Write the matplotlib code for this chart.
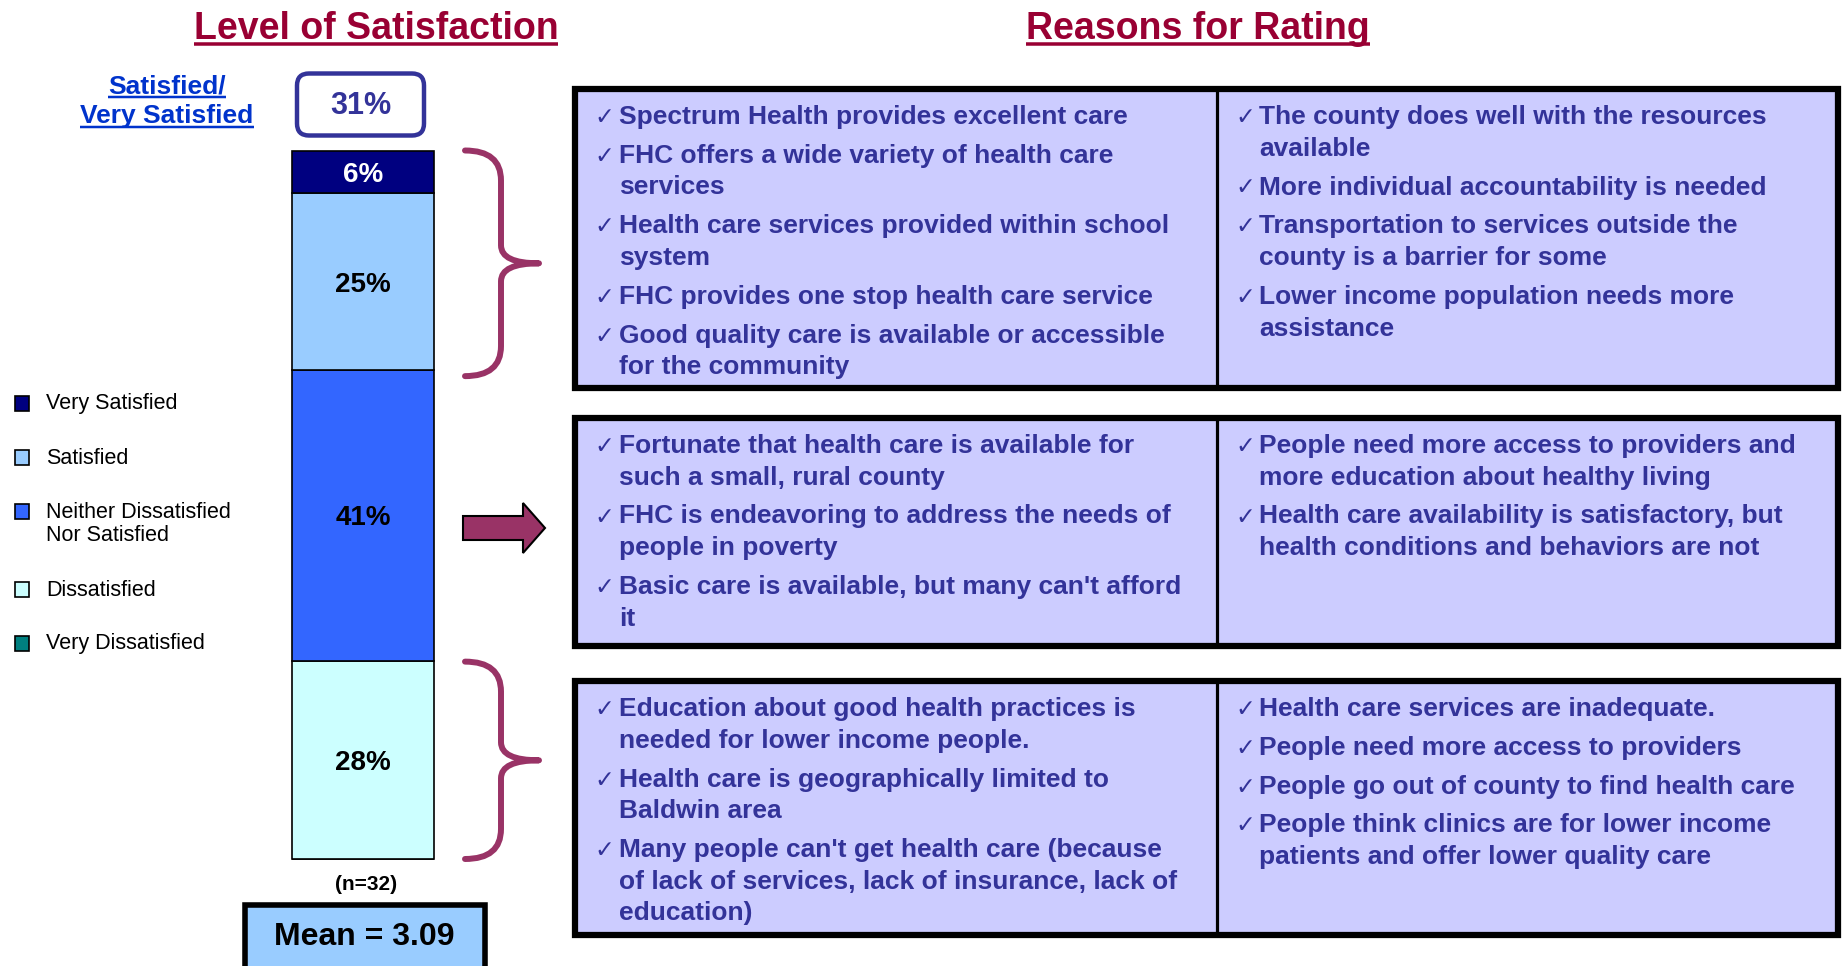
import matplotlib
matplotlib.use("Agg")
import matplotlib.pyplot as plt
from matplotlib.patches import Rectangle, FancyBboxPatch, PathPatch, FancyArrow
from matplotlib.path import Path

# ---------------- data ----------------
categories = ["Very Dissatisfied", "Dissatisfied", "Neither Dissatisfied\nNor Satisfied",
              "Satisfied", "Very Satisfied"]
percentages = [0, 28, 41, 25, 6]
bar_colors = ["#008080", "#CCFFFF", "#3366FF", "#99CCFF", "#000080"]
label_colors = ["black", "black", "black", "black", "white"]
n_respondents = 32
mean_score = 3.09
top2_share = percentages[3] + percentages[4]

reasons_satisfied_left = [
    "Spectrum Health provides excellent care",
    "FHC offers a wide variety of health care\nservices",
    "Health care services provided within school\nsystem",
    "FHC provides one stop health care service",
    "Good quality care is available or accessible\nfor the community",
]
reasons_satisfied_right = [
    "The county does well with the resources\navailable",
    "More individual accountability is needed",
    "Transportation to services outside the\ncounty is a barrier for some",
    "Lower income population needs more\nassistance",
]
reasons_neutral_left = [
    "Fortunate that health care is available for\nsuch a small, rural county",
    "FHC is endeavoring to address the needs of\npeople in poverty",
    "Basic care is available, but many can't afford\nit",
]
reasons_neutral_right = [
    "People need more access to providers and\nmore education about healthy living",
    "Health care availability is satisfactory, but\nhealth conditions and behaviors are not",
]
reasons_dissatisfied_left = [
    "Education about good health practices is\nneeded for lower income people.",
    "Health care is geographically limited to\nBaldwin area",
    "Many people can't get health care (because\nof lack of services, lack of insurance, lack of\neducation)",
]
reasons_dissatisfied_right = [
    "Health care services are inadequate.",
    "People need more access to providers",
    "People go out of county to find health care",
    "People think clinics are for lower income\npatients and offer lower quality care",
]

# ---------------- style ----------------
W, H = 1843, 966
SANS = ["Liberation Sans", "DejaVu Sans"]
TITLE_C = "#990033"
TXT_C = "#333399"
BRACE_C = "#993366"
BOX_FILL = "#CCCCFF"

fig = plt.figure(figsize=(W / 100, H / 100), dpi=100)
fig.patch.set_facecolor("white")
ax = fig.add_axes([0, 0, 1, 1])
ax.set_xlim(0, W)
ax.set_ylim(H, 0)
ax.axis("off")

# ---------------- stacked bar ----------------
BAR_L, BAR_R, BAR_T, BAR_B = 292, 434, 150.5, 859
axb = fig.add_axes([BAR_L / W, 1 - BAR_B / H, (BAR_R - BAR_L) / W, (BAR_B - BAR_T) / H])
bottom = 0
for v, c, lc in zip(percentages, bar_colors, label_colors):
    bars = axb.bar(0, v, bottom=bottom, width=1, color=c, edgecolor="black", linewidth=1.2)
    for p in bars.patches:
        p.set_clip_on(False)
    if v > 0:
        axb.text(0, bottom + v / 2, f"{v}%", ha="center", va="center_baseline", color=lc,
                 fontsize=20, fontweight="bold", family=SANS)
    bottom += v
axb.set_xlim(-0.5, 0.5)
axb.set_ylim(0, 100)
axb.axis("off")


def to_pix(yval):
    disp = axb.transData.transform((0, yval))
    return ax.transData.inverted().transform(disp)[1]


# ---------------- titles ----------------
renderer = fig.canvas.get_renderer()


def underlined(x, y_base, s, size, color, lw_px, gap):
    t = ax.text(x, y_base, s, ha="center", va="baseline", fontsize=size,
                fontweight="bold", color=color, family=SANS)
    bb = t.get_window_extent(renderer=renderer)
    (x0, _), (x1, _) = ax.transData.inverted().transform([(bb.x0, 0), (bb.x1, 0)])
    ax.plot([x0, x1], [y_base + gap, y_base + gap], color=color, lw=lw_px * 0.72,
            solid_capstyle="butt")


underlined(376, 39, "Level of Satisfaction", 27, TITLE_C, 3.5, 4.5)
underlined(1198, 39, "Reasons for Rating", 27, TITLE_C, 3.5, 4.5)
underlined(167, 94, "Satisfied/", 19, "#0033CC", 2.5, 3)
underlined(167, 123.5, "Very Satisfied", 19, "#0033CC", 2.5, 3)

# top-2 box
ax.add_patch(FancyBboxPatch((297, 73.5), 127, 62, boxstyle="round,pad=0,rounding_size=12",
                            facecolor="white", edgecolor=TXT_C, linewidth=3.2))
ax.text(360.5, 106, f"{top2_share}%", ha="center", va="center", fontsize=22,
        fontweight="bold", color=TXT_C, family=SANS)

# n and mean
ax.text(366, 884, f"(n={n_respondents})", ha="center", va="center", fontsize=15,
        fontweight="bold", color="black", family=SANS)
ax.add_patch(Rectangle((245, 905), 240, 80, facecolor="#99CCFF", edgecolor="black",
                       linewidth=4))
ax.text(364, 937, f"Mean = {mean_score:.2f}", ha="center", va="center", fontsize=23,
        fontweight="bold", color="black", family=SANS)

# ---------------- legend ----------------
legend_y = [643, 589, 511, 457, 403]   # same order as categories
for cat, col, ly in zip(categories, bar_colors, legend_y):
    ax.add_patch(Rectangle((15, ly - 7), 14, 15, facecolor=col, edgecolor="black",
                           linewidth=1.2))
    for k, line in enumerate(cat.split("\n")):
        ax.text(46, ly + 1 + k * 23.5, line, ha="left", va="center", fontsize=15.5,
                color="black", family=SANS)

# ---------------- braces & arrow ----------------
def brace(y0, y1, x_end=465, x_stem=501, x_tip=539, r=30, rt=18):
    ym = (y0 + y1) / 2
    verts = [(x_end, y0), (x_stem, y0), (x_stem, y0 + r),
             (x_stem, ym - rt),
             (x_stem, ym), (x_tip, ym),
             (x_stem, ym), (x_stem, ym + rt),
             (x_stem, y1 - r),
             (x_stem, y1), (x_end, y1)]
    codes = [Path.MOVETO, Path.CURVE3, Path.CURVE3, Path.LINETO,
             Path.CURVE3, Path.CURVE3, Path.CURVE3, Path.CURVE3,
             Path.LINETO, Path.CURVE3, Path.CURVE3]
    ax.add_patch(PathPatch(Path(verts, codes), facecolor="none", edgecolor=BRACE_C,
                           linewidth=4.3, capstyle="round", joinstyle="round"))


cum = [sum(percentages[:i]) for i in range(len(percentages) + 1)]
brace(to_pix(cum[5]), to_pix(cum[3]) + 6)
brace(to_pix(cum[2]) + 1, to_pix(cum[0]))
ax.add_patch(FancyArrow(463, 528, 82, 0, width=24, head_width=50, head_length=22,
                        length_includes_head=True, facecolor=BRACE_C, edgecolor="black",
                        linewidth=1.5))

# ---------------- reason boxes ----------------
BOX_L, BOX_R, DIV_X = 575, 1838, 1216.5
LINE, ITEM_GAP = 31.7, 7.1
boxes = [
    ((86, 391), reasons_satisfied_left, reasons_satisfied_right),
    ((415, 649), reasons_neutral_left, reasons_neutral_right),
    ((678, 938), reasons_dissatisfied_left, reasons_dissatisfied_right),
]


def draw_column(items, x_check, x_text, y_start):
    y = y_start
    for item in items:
        ax.text(x_check, y + 9, "\u2713", ha="left", va="baseline", fontsize=17,
                color=TXT_C, family=["DejaVu Sans"])
        for line in item.split("\n"):
            ax.text(x_text, y + 9, line, ha="left", va="baseline", fontsize=19,
                    fontweight="bold", color=TXT_C, family=SANS)
            y += LINE
        y += ITEM_GAP


for (top, bot), left_items, right_items in boxes:
    ax.add_patch(Rectangle((BOX_L, top + 3), BOX_R - BOX_L, bot - top - 6,
                           facecolor=BOX_FILL, edgecolor="black", linewidth=4.5))
    ax.plot([DIV_X, DIV_X], [top + 3, bot - 3], color="black", lw=2.3)
    draw_column(left_items, 594, 619, top + 29)
    draw_column(right_items, 1235, 1259, top + 29)

fig.savefig("out.png", dpi=100, facecolor="white")
